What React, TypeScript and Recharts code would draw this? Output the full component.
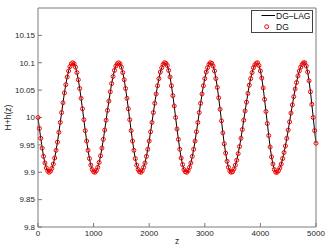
import { LineChart, Line, XAxis, YAxis, Legend, Label } from 'recharts'

// H+h(z), one value every 25 in z (0 .. 5000)
const zStep = 25
const hValues = [
  10.0, 9.98, 9.962, 9.944, 9.929, 9.917, 9.908, 9.902,
  9.9, 9.902, 9.907, 9.915, 9.926, 9.94, 9.955, 9.973,
  9.991, 10.009, 10.027, 10.045, 10.06, 10.074, 10.085, 10.093,
  10.098, 10.1, 10.098, 10.092, 10.082, 10.069, 10.053, 10.035,
  10.016, 9.996, 9.976, 9.957, 9.94, 9.925, 9.913, 9.905,
  9.901, 9.9, 9.903, 9.909, 9.918, 9.93, 9.944, 9.96,
  9.977, 9.995, 10.013, 10.03, 10.047, 10.062, 10.075, 10.086,
  10.094, 10.098, 10.1, 10.098, 10.092, 10.082, 10.069, 10.053,
  10.035, 10.016, 9.996, 9.976, 9.957, 9.94, 9.925, 9.913,
  9.905, 9.901, 9.9, 9.903, 9.909, 9.917, 9.929, 9.942,
  9.957, 9.974, 9.991, 10.009, 10.026, 10.043, 10.058, 10.071,
  10.083, 10.091, 10.097, 10.1, 10.099, 10.095, 10.086, 10.074,
  10.058, 10.04, 10.021, 10.0, 9.979, 9.96, 9.942, 9.926,
  9.914, 9.905, 9.901, 9.9, 9.903, 9.909, 9.917, 9.929,
  9.942, 9.957, 9.974, 9.991, 10.009, 10.026, 10.043, 10.058,
  10.071, 10.083, 10.091, 10.097, 10.1, 10.099, 10.094, 10.085,
  10.071, 10.055, 10.036, 10.015, 9.994, 9.972, 9.952, 9.935,
  9.92, 9.909, 9.902, 9.9, 9.901, 9.906, 9.913, 9.922,
  9.934, 9.947, 9.962, 9.978, 9.995, 10.012, 10.028, 10.044,
  10.059, 10.071, 10.082, 10.091, 10.096, 10.099, 10.1, 10.095,
  10.085, 10.072, 10.054, 10.033, 10.011, 9.989, 9.967, 9.946,
  9.928, 9.915, 9.905, 9.9, 9.9, 9.903, 9.908, 9.915,
  9.925, 9.936, 9.948, 9.962, 9.977, 9.992, 10.008, 10.023,
  10.038, 10.052, 10.064, 10.076, 10.085, 10.092, 10.097, 10.1,
  10.1, 10.094, 10.083, 10.067, 10.047, 10.024, 10.0, 9.976,
  9.953,
]

const xTicks = [0, 1000, 2000, 3000, 4000, 5000]
const yTicks = [9.8, 9.85, 9.9, 9.95, 10, 10.05, 10.1, 10.15]

const data = hValues.map((h, i) => ({ z: i * zStep, lag: h, dg: h }))

const font = "'Liberation Sans', Arial, Helvetica, sans-serif"
const axisColor = '#7a7a7a'
const tickStyle = { fontSize: 8, fill: '#262626', fontFamily: font }

function YLabel({ viewBox }: any) {
  const x = viewBox.x + 8
  const y = viewBox.y + viewBox.height / 2
  return (
    <text
      x={x}
      y={y}
      transform={`rotate(-90 ${x} ${y})`}
      textAnchor="middle"
      dominantBaseline="central"
      fontSize={8.5}
      fontFamily={font}
      fill="#262626"
    >
      H+h(z)
    </text>
  )
}

function MatlabLegend() {
  return (
    <div style={{ width: 62, height: 23, border: '1px solid #444', background: '#fff', boxSizing: 'border-box' }}>
      <svg width={62} height={23} style={{ display: 'block', marginLeft: -1, marginTop: -1 }}>
        <line x1={10.5} x2={24} y1={5.5} y2={5.5} stroke="#000" strokeWidth={1} />
        <circle cx={15.7} cy={16.7} r={2} stroke="#ff0000" strokeWidth={1} fill="none" />
        <text x={25} y={8.6} fontSize={8.5} fontFamily={font} fill="#111">
          DG–LAG
        </text>
        <text x={25} y={19.8} fontSize={8.5} fontFamily={font} fill="#111">
          DG
        </text>
      </svg>
    </div>
  )
}

export default function App() {
  return (
    <div style={{ position: 'absolute', left: 0, top: 0, width: 328, height: 249, background: '#fff' }}>
      <LineChart width={328} height={249} data={data} margin={{ top: 7, right: 11, bottom: 0, left: 0 }}>
        <XAxis
          dataKey="z"
          type="number"
          domain={[0, 5000]}
          ticks={xTicks}
          interval={0}
          height={22}
          tickSize={-4}
          tickMargin={7}
          stroke={axisColor}
          tick={tickStyle}
        >
          <Label value="z" position="insideBottom" offset={5} fontSize={8.5} fontFamily={font} fill="#262626" />
        </XAxis>
        <XAxis
          xAxisId="top"
          orientation="top"
          dataKey="z"
          type="number"
          domain={[0, 5000]}
          ticks={xTicks}
          interval={0}
          height={1}
          tickSize={-4}
          stroke={axisColor}
          tick={false}
        />
        <YAxis
          type="number"
          domain={[9.8, 10.2]}
          allowDataOverflow
          ticks={yTicks}
          interval={0}
          width={38}
          tickSize={-4}
          tickMargin={7}
          stroke={axisColor}
          tick={tickStyle}
          label={<Label content={YLabel} />}
        />
        <YAxis
          yAxisId="right"
          orientation="right"
          type="number"
          domain={[9.8, 10.2]}
          allowDataOverflow
          ticks={yTicks}
          interval={0}
          width={1}
          tickSize={-4}
          stroke={axisColor}
          tick={false}
        />
        <Legend
          layout="vertical"
          align="center"
          verticalAlign="middle"
          content={() => <MatlabLegend />}
          wrapperStyle={{ left: 251, top: 10, width: 62, height: 23 }}
        />
        <Line
          dataKey="lag"
          name="DG–LAG"
          stroke="#000"
          strokeWidth={1}
          dot={false}
          isAnimationActive={false}
        />
        <Line
          dataKey="dg"
          name="DG"
          stroke="none"
          dot={{ r: 2, stroke: '#ff0000', strokeWidth: 1, fill: 'none' }}
          isAnimationActive={false}
        />
      </LineChart>
    </div>
  )
}
